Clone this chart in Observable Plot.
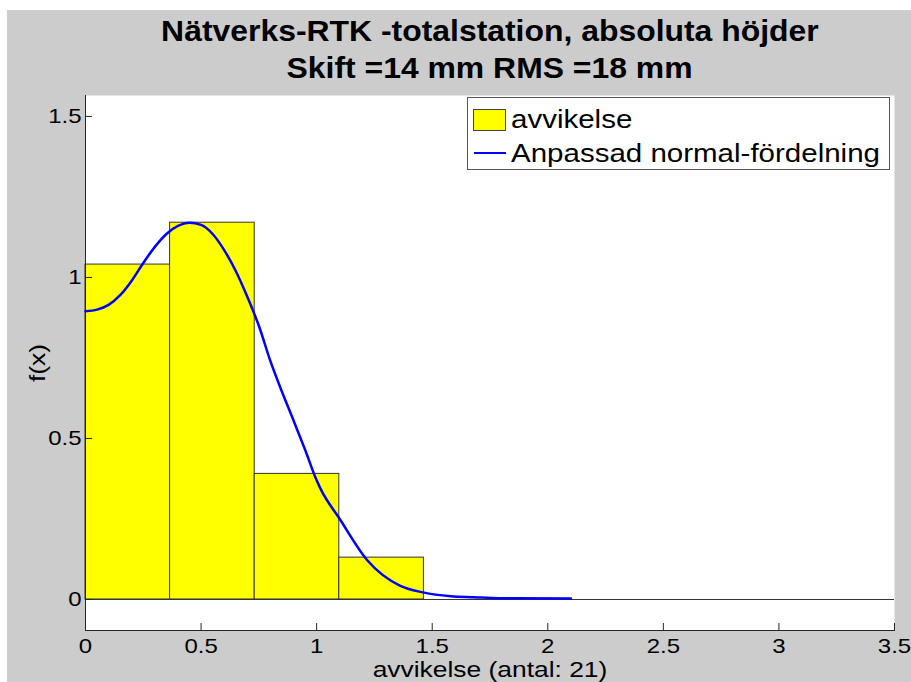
<!DOCTYPE html>
<html>
<head>
<meta charset="utf-8">
<script src="https://cdn.jsdelivr.net/npm/d3@7"></script>
<script src="https://cdn.jsdelivr.net/npm/@observablehq/plot@0.6"></script>
<style>
  html, body { margin: 0; padding: 0; background: #ffffff; }
  body { width: 911px; height: 682px; overflow: hidden; position: relative; font-family: "Liberation Sans", Arial, sans-serif; }
  #fig { position: absolute; left: 7px; top: 10px; width: 904px; height: 672px; background: #cccccc; }
  #title { position: absolute; left: 78px; top: 3px; width: 809px; text-align: center; font-weight: bold; font-size: 29px; line-height: 37px; color: #000; }
  #title span { display: inline-block; transform: scaleX(1.1); transform-origin: center; white-space: nowrap; }
  #chart { position: absolute; left: 0; top: 85px; }
  #legend { position: absolute; left: 460px; top: 87px; width: 421px; height: 71px; border: 1px solid #555; background: #fff; }
  .sw { position: absolute; left: 5px; top: 11px; width: 31px; height: 20px; background: #ffff00; border: 1px solid #444; }
  .ln { position: absolute; left: 6px; top: 54px; width: 32px; height: 2px; background: #0000ff; }
  .lt { position: absolute; left: 43px; font-size: 25px; line-height: 30px; color: #000; white-space: nowrap; transform: scaleX(1.18); transform-origin: left center; }
</style>
</head>
<body>
<div id="fig">
  <div id="title"></div>
  <div id="chart"></div>
  <div id="legend">
    <div class="sw"></div>
    <div class="lt" id="lt1" style="top:6px"></div>
    <div class="ln"></div>
    <div class="lt" id="lt2" style="top:40px"></div>
  </div>
</div>
<script>
// ---- data ----
const titleLines = ["Nätverks-RTK -totalstation, absoluta höjder", "Skift =14 mm RMS =18 mm"];
const xLabel = "avvikelse (antal: 21)";
const yLabel = "f(x)";
const legendLabels = ["avvikelse", "Anpassad normal-fördelning"];

const binStart = [0, 0.366, 0.732, 1.098];
const binEnd   = [0.366, 0.732, 1.098, 1.464];
const density  = [1.04, 1.17, 0.39, 0.13];

const curveX = [0, 0.05, 0.10, 0.15, 0.20, 0.25, 0.30, 0.35, 0.40, 0.45, 0.50, 0.55, 0.60, 0.65, 0.70, 0.75, 0.80, 0.85, 0.90, 0.95, 1.00, 1.016, 1.10, 1.22, 1.36, 1.46, 1.58, 1.68, 1.79, 2.1];
const curveY = [0.895, 0.900, 0.915, 0.945, 0.99, 1.045, 1.095, 1.135, 1.16, 1.17, 1.163, 1.135, 1.085, 1.02, 0.94, 0.85, 0.74, 0.645, 0.556, 0.465, 0.37, 0.345, 0.25, 0.121, 0.043, 0.022, 0.01, 0.007, 0.004, 0.003];

const xTicks = [0, 0.5, 1, 1.5, 2, 2.5, 3, 3.5];
const yTicks = [0, 0.5, 1, 1.5];

// ---- build ----
document.getElementById("title").innerHTML = titleLines.map(t => `<span>${t}</span>`).join("<br>");
document.getElementById("lt1").textContent = legendLabels[0];
document.getElementById("lt2").textContent = legendLabels[1];

const bars = binStart.map((s, i) => ({x1: s, x2: binEnd[i], y: density[i]}));
const curve = curveX.map((x, i) => ({x, y: curveY[i]}));

const axisColor = "#262626";

const svg = Plot.plot({
  width: 904,
  height: 587,
  marginLeft: 78,
  marginRight: 17,
  marginTop: 0,
  marginBottom: 52,
  style: { background: "transparent", fontFamily: "Liberation Sans, Arial, sans-serif", color: "#000" },
  x: { domain: [0, 3.5] },
  y: { domain: [-0.0963, 1.565] },
  marks: [
    Plot.frame({ fill: "#ffffff", stroke: null }),
    Plot.rectY(bars, { x1: "x1", x2: "x2", y: "y", fill: "#ffff00", stroke: "#333333", strokeWidth: 1 }),
    Plot.ruleY([0], { stroke: "#333333", strokeWidth: 1 }),
    Plot.line(curve, { x: "x", y: "y", stroke: "#0000ff", strokeWidth: 2.5, curve: "monotone-x" }),
    Plot.frame({ anchor: "left", stroke: axisColor }),
    Plot.frame({ anchor: "bottom", stroke: axisColor }),
    Plot.axisX({ ticks: xTicks, tickFormat: d => `${d}`, tickSize: -7, tickPadding: 15, fontSize: 20, stroke: axisColor, label: null }),
    Plot.axisY({ ticks: yTicks, tickFormat: d => `${d}`, tickSize: -7, tickPadding: 11, fontSize: 20, stroke: axisColor, label: null }),
    Plot.text([xLabel], { frameAnchor: "bottom", dy: 39, fontSize: 22, textAnchor: "middle", lineAnchor: "middle", fill: "#000" }),
    Plot.text([yLabel], { frameAnchor: "left", dx: -48, rotate: -90, fontSize: 22, textAnchor: "middle", lineAnchor: "middle", fill: "#000" })
  ]
});

// horizontal stretch of text to mimic the reference rendering
svg.querySelectorAll("text").forEach(t => {
  const tr = t.getAttribute("transform") || "";
  t.setAttribute("transform", (tr + " scale(1.2,1)").trim());
});

document.getElementById("chart").appendChild(svg);
</script>
</body>
</html>
